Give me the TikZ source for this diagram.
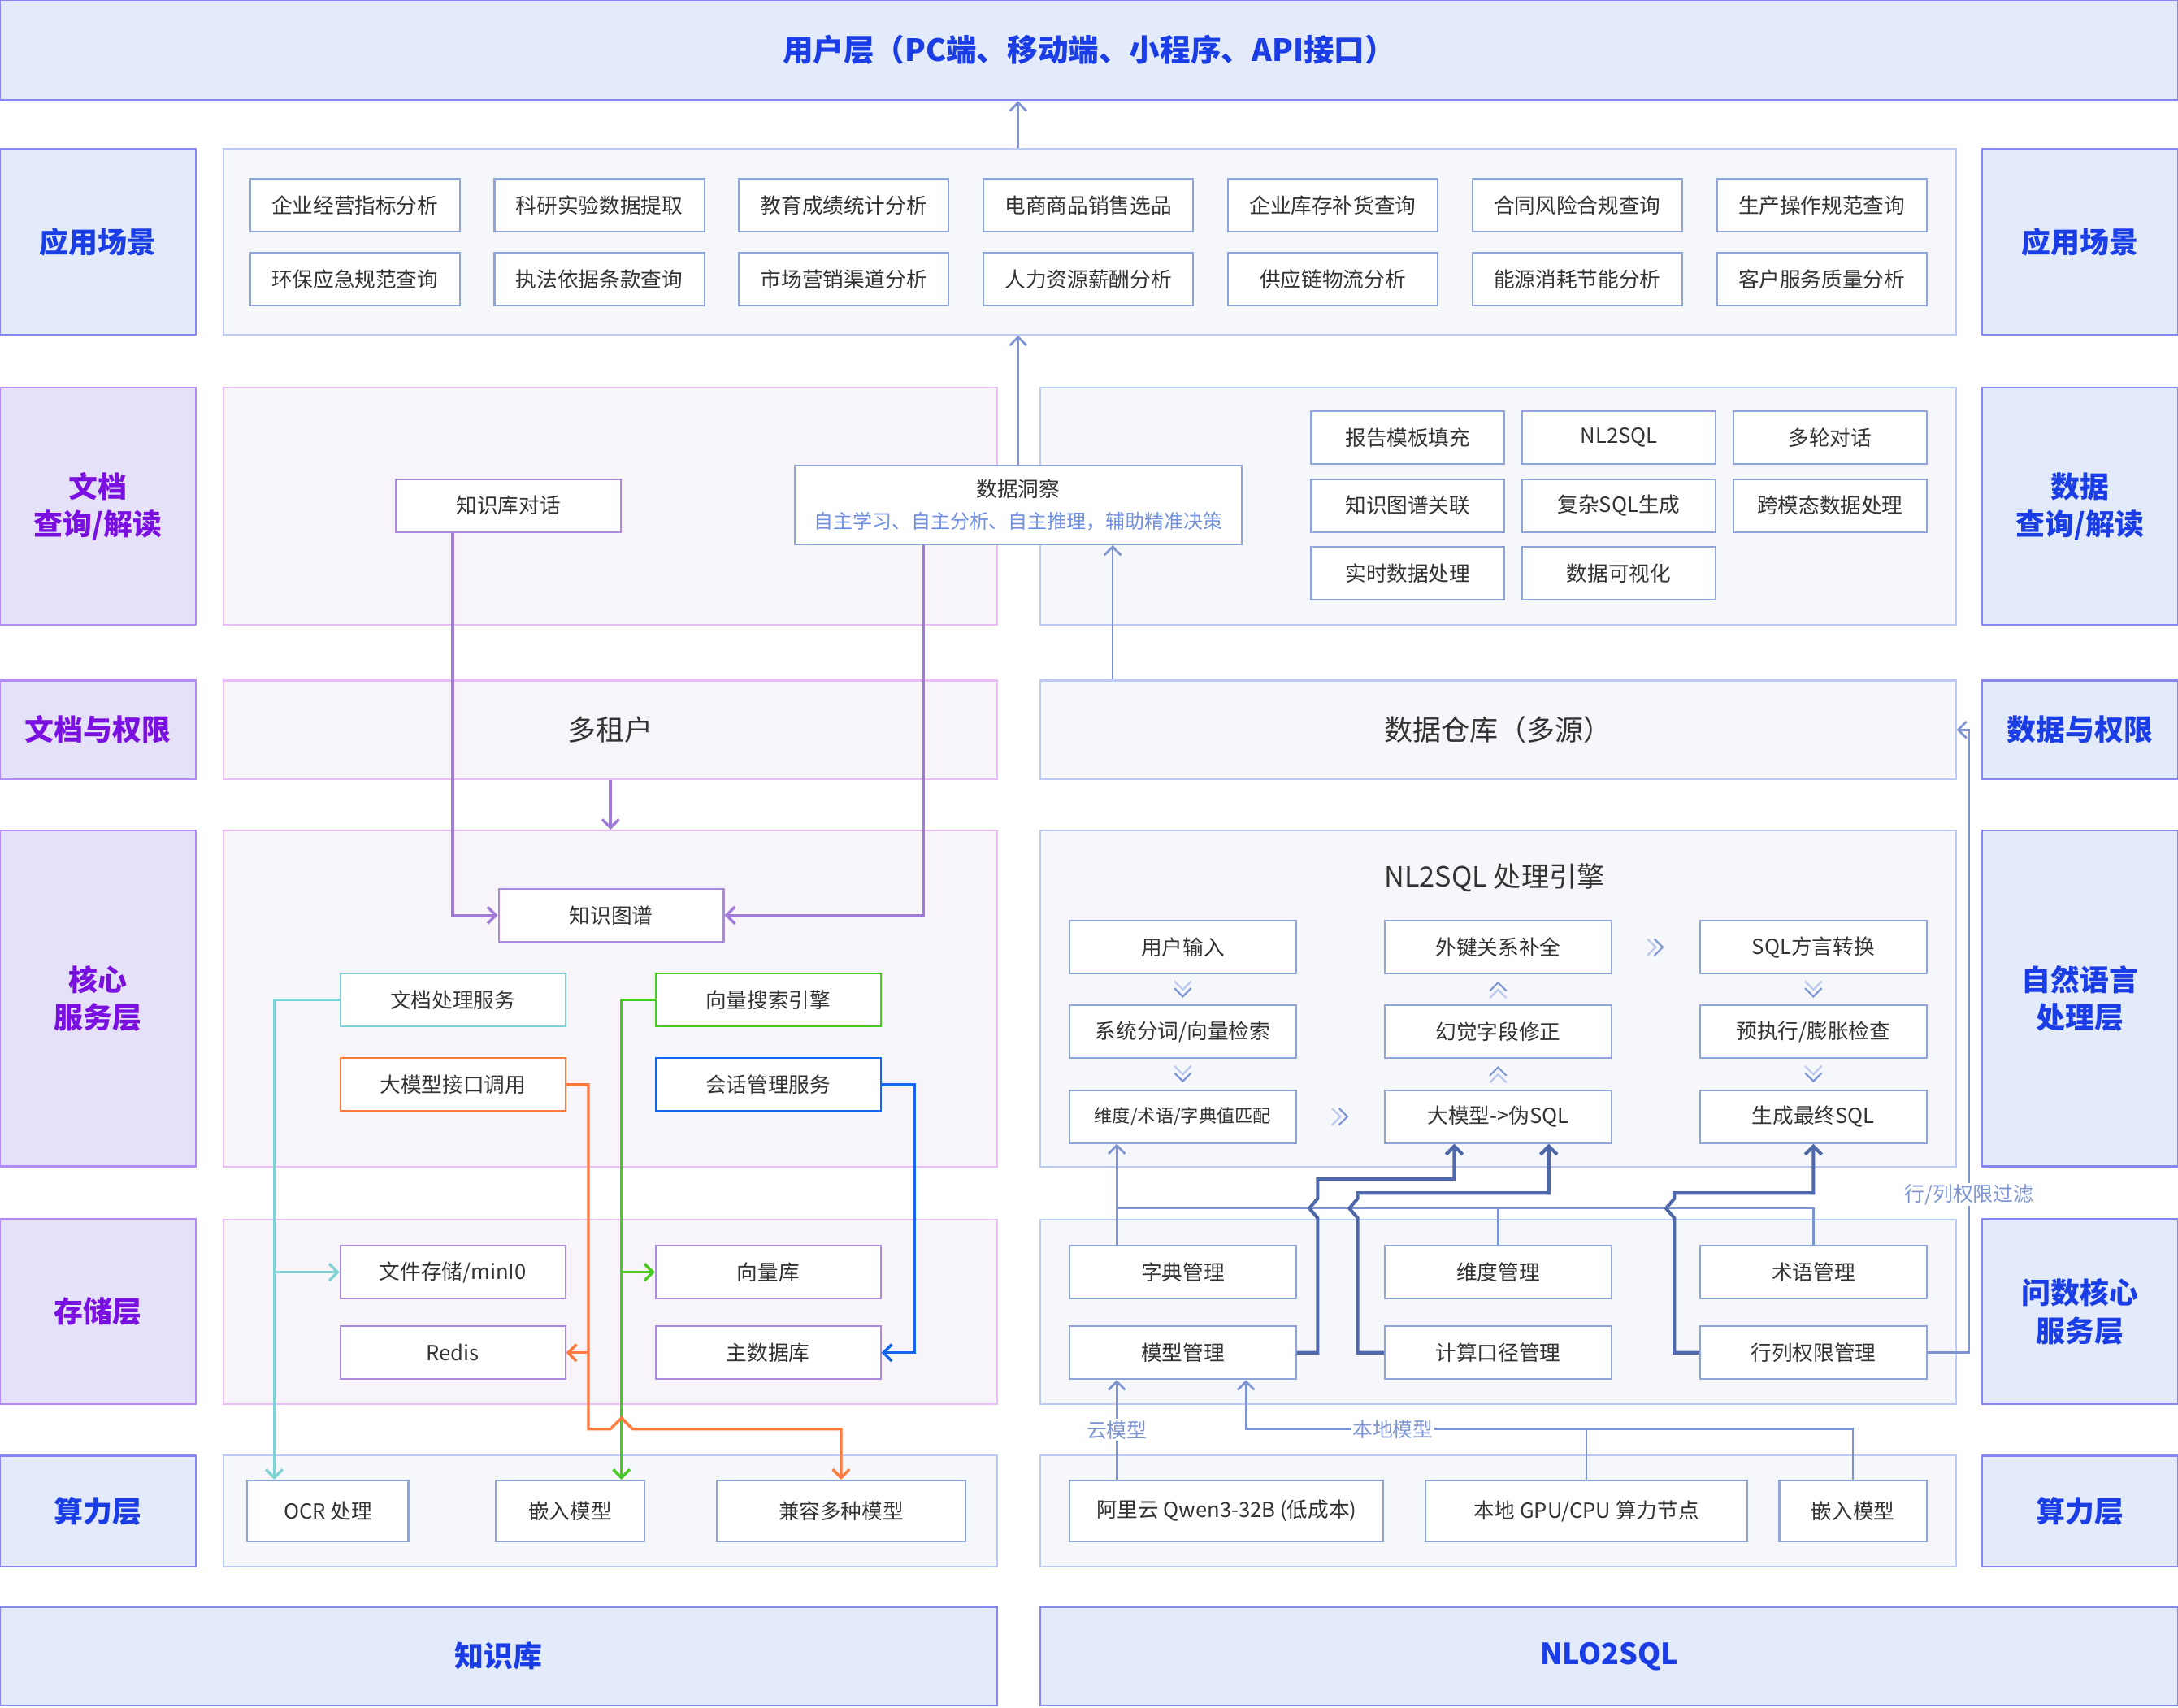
\documentclass[tikz,border=0pt]{standalone}
\usepackage{fontspec}
\setmainfont{Noto Sans CJK SC}
\usetikzlibrary{arrows.meta,calc}

\definecolor{sidefill}{HTML}{E3EBFA}
\definecolor{sideline}{HTML}{8787F3}
\definecolor{sidetext}{HTML}{1A3DE6}
\definecolor{purpfill}{HTML}{E5E1F8}
\definecolor{purpline}{HTML}{B28BF7}
\definecolor{purptext}{HTML}{7A10E0}
\definecolor{panelfill}{HTML}{F5F7FA}
\definecolor{panelline}{HTML}{BACAF4}
\definecolor{pinkfill}{HTML}{F7F5FA}
\definecolor{pinkline}{HTML}{EBBDF7}
\definecolor{itemline}{HTML}{8FA5DA}
\definecolor{itempurp}{HTML}{AC8ADB}
\definecolor{textgray}{HTML}{333333}
\definecolor{subblue}{HTML}{6F8FE0}
\definecolor{linkblue}{HTML}{7D94D0}
\definecolor{darklink}{HTML}{4F68A9}
\definecolor{kgpurp}{HTML}{A07AD8}
\definecolor{cyanlink}{HTML}{7FD2D4}
\definecolor{orangelink}{HTML}{FF7A3C}
\definecolor{greenlink}{HTML}{46CC1E}
\definecolor{bluelink}{HTML}{1466F0}
\definecolor{chevlight}{HTML}{BCC9EC}
\definecolor{chevdark}{HTML}{7F97D4}

\tikzset{
  sidebox/.style={draw=sideline,fill=sidefill,line width=1.5pt,text=sidetext,
    font=\fontsize{21}{27}\selectfont\bfseries,align=center,inner sep=0pt,minimum width=141pt},
  purpbox/.style={sidebox,draw=purpline,fill=purpfill,text=purptext},
  panel/.style={draw=panelline,fill=panelfill,line width=1.2pt,inner sep=0pt,
    text=textgray,font=\fontsize{20.5}{24}\selectfont},
  pinkpanel/.style={panel,draw=pinkline,fill=pinkfill},
  item/.style={draw=itemline,fill=white,line width=1.2pt,text=textgray,
    font=\fontsize{15}{23}\selectfont,minimum height=38pt,inner sep=0pt},
  pitem/.style={item,draw=itempurp},
  tip/.style={-{Straight Barb[length=6pt,width=12pt]}},
  link/.style={linkblue,line width=1.6pt},
  darkline/.style={darklink,line width=2.4pt},
  flabel/.style={fill=white,text=linkblue,font=\fontsize{14.5}{17}\selectfont,inner sep=1pt},
  chevs/.pic={
    \draw[chevlight,line width=1.3pt] (-6,-6) -- (0,0) -- (6,-6);
    \draw[chevdark,line width=1.3pt] (-6,-1) -- (0,5) -- (6,-1);
  }
}

\begin{document}
\begin{tikzpicture}[x=1pt,y=-1pt]
  \useasboundingbox (0,0) rectangle (1568,1229.3);

  % top and bottom bars
  \node[sidebox,minimum width=1568pt,minimum height=72pt,font=\fontsize{22}{27}\selectfont\bfseries] (user) at (784,36) {用户层（PC端、移动端、小程序、API接口）};
  \node[sidebox,minimum width=718pt,minimum height=71pt] (kb) at (359,1192.5) {知识库};
  \node[sidebox,minimum width=819pt,minimum height=71pt] (nlo) at (1158.5,1192.5) {NLO2SQL};

  % side labels
  \node[sidebox,minimum height=134pt] (app_l) at (70.5,174) {应用场景};
  \node[sidebox,minimum height=134pt] (app_r) at (1497.5,174) {应用场景};
  \node[purpbox,minimum height=171pt] (doc_l) at (70.5,364.5) {文档\\查询/解读};
  \node[sidebox,minimum height=171pt] (data_r) at (1497.5,364.5) {数据\\查询/解读};
  \node[purpbox,minimum height=71pt] (perm_l) at (70.5,525.5) {文档与权限};
  \node[sidebox,minimum height=71pt] (perm_r) at (1497.5,525.5) {数据与权限};
  \node[purpbox,minimum height=242pt] (core_l) at (70.5,719) {核心\\服务层};
  \node[sidebox,minimum height=242pt] (nlp_r) at (1497.5,719) {自然语言\\处理层};
  \node[purpbox,minimum height=133pt] (store_l) at (70.5,944.5) {存储层};
  \node[sidebox,minimum height=133pt] (svc_r) at (1497.5,944.5) {问数核心\\服务层};
  \node[sidebox,minimum height=80pt] (comp_l) at (70.5,1088) {算力层};
  \node[sidebox,minimum height=80pt] (comp_r) at (1497.5,1088) {算力层};

  % panels
  \node[panel,minimum width=1247pt,minimum height=134pt] (app_panel) at (784.5,174) {};
  \node[pinkpanel,minimum width=557pt,minimum height=171pt] (doc_panel) at (439.5,364.5) {};
  \node[panel,minimum width=659pt,minimum height=171pt] (data_panel) at (1078.5,364.5) {};
  \node[pinkpanel,minimum width=557pt,minimum height=71pt] (tenant) at (439.5,525.5) {多租户};
  \node[panel,minimum width=659pt,minimum height=71pt] (warehouse) at (1078.5,525.5) {数据仓库（多源）};
  \node[pinkpanel,minimum width=557pt,minimum height=242pt] (core_panel) at (439.5,719) {};
  \node[panel,minimum width=659pt,minimum height=242pt] (engine_panel) at (1078.5,719) {};
  \node[pinkpanel,minimum width=557pt,minimum height=133pt] (store_panel) at (439.5,944.5) {};
  \node[panel,minimum width=659pt,minimum height=133pt] (svc_panel) at (1078.5,944.5) {};
  \node[panel,minimum width=557pt,minimum height=80pt] (comp_panel_l) at (439.5,1088) {};
  \node[panel,minimum width=659pt,minimum height=80pt] (comp_panel_r) at (1078.5,1088) {};

  % application scenes
  \foreach \t [count=\i] in {企业经营指标分析,科研实验数据提取,教育成绩统计分析,电商商品销售选品,企业库存补货查询,合同风险合规查询,生产操作规范查询}
    \node[item,minimum width=151pt] (app1_\i) at ({79.5+176*\i},148) {\t};
  \foreach \t [count=\i] in {环保应急规范查询,执法依据条款查询,市场营销渠道分析,人力资源薪酬分析,供应链物流分析,能源消耗节能分析,客户服务质量分析}
    \node[item,minimum width=151pt] (app2_\i) at ({79.5+176*\i},201) {\t};

  % query / interpretation
  \node[pitem,minimum width=162pt] (kbchat) at (366,364) {知识库对话};
  \node[item,minimum width=322pt,minimum height=57pt,align=center] (insight) at (733,363.5)
    {数据洞察\\{\color{subblue}\fontsize{14}{17}\selectfont 自主学习、自主分析、自主推理，辅助精准决策}};
  \node[item,minimum width=139pt] (dq1) at (1013.5,315) {报告模板填充};
  \node[item,minimum width=139pt] (dq2) at (1165.5,315) {NL2SQL};
  \node[item,minimum width=139pt] (dq3) at (1317.5,315) {多轮对话};
  \node[item,minimum width=139pt] (dq4) at (1013.5,364) {知识图谱关联};
  \node[item,minimum width=139pt] (dq5) at (1165.5,364) {复杂SQL生成};
  \node[item,minimum width=139pt] (dq6) at (1317.5,364) {跨模态数据处理};
  \node[item,minimum width=139pt] (dq7) at (1013.5,413) {实时数据处理};
  \node[item,minimum width=139pt] (dq8) at (1165.5,413) {数据可视化};

  % core services
  \node[pitem,minimum width=162pt] (kg) at (440,659) {知识图谱};
  \node[item,draw=cyanlink,minimum width=162pt] (docsvc) at (326,720) {文档处理服务};
  \node[item,draw=orangelink,minimum width=162pt] (llmapi) at (326,781) {大模型接口调用};
  \node[item,draw=greenlink,minimum width=162pt] (vecsearch) at (553,720) {向量搜索引擎};
  \node[item,draw=bluelink,minimum width=162pt] (session) at (553,781) {会话管理服务};

  \node[text=textgray,font=\fontsize{20}{24}\selectfont] (engine_title) at (1076,632) {NL2SQL 处理引擎};
  \begin{scope}[every node/.style={item,minimum width=163pt}]
    \node (e11) at (851.5,682) {用户输入};
    \node (e12) at (851.5,743) {系统分词/向量检索};
    \node[font=\fontsize{13}{16}\selectfont] (e13) at (851.5,804) {维度/术语/字典值匹配};
    \node (e21) at (1078.5,682) {外键关系补全};
    \node (e22) at (1078.5,743) {幻觉字段修正};
    \node (e23) at (1078.5,804) {大模型->伪SQL};
    \node (e31) at (1305.5,682) {SQL方言转换};
    \node (e32) at (1305.5,743) {预执行/膨胀检查};
    \node (e33) at (1305.5,804) {生成最终SQL};
  \end{scope}
  \pic at ($(e11.south)!.5!(e12.north)$) {chevs};
  \pic at ($(e12.south)!.5!(e13.north)$) {chevs};
  \pic[rotate=90] at ($(e13.east)!.5!(e23.west)$) {chevs};
  \pic[rotate=180] at ($(e23.north)!.5!(e22.south)$) {chevs};
  \pic[rotate=180] at ($(e22.north)!.5!(e21.south)$) {chevs};
  \pic[rotate=90] at ($(e21.east)!.5!(e31.west)$) {chevs};
  \pic at ($(e31.south)!.5!(e32.north)$) {chevs};
  \pic at ($(e32.south)!.5!(e33.north)$) {chevs};

  % storage
  \node[pitem,minimum width=162pt] (filestore) at (326,916) {文件存储/minI0};
  \node[pitem,minimum width=162pt] (redis) at (326,974) {Redis};
  \node[pitem,minimum width=162pt] (vecdb) at (553,916) {向量库};
  \node[pitem,minimum width=162pt] (maindb) at (553,974) {主数据库};
  \node[item,minimum width=163pt] (dict) at (851.5,916) {字典管理};
  \node[item,minimum width=163pt] (dim) at (1078.5,916) {维度管理};
  \node[item,minimum width=163pt] (term) at (1305.5,916) {术语管理};
  \node[item,minimum width=163pt] (modelmgmt) at (851.5,974) {模型管理};
  \node[item,minimum width=163pt] (metric) at (1078.5,974) {计算口径管理};
  \node[item,minimum width=163pt] (rowperm) at (1305.5,974) {行列权限管理};

  % compute
  \node[item,minimum width=116pt,minimum height=44pt] (ocr) at (236,1088) {OCR 处理};
  \node[item,minimum width=107pt,minimum height=44pt] (embed_l) at (410.5,1088) {嵌入模型};
  \node[item,minimum width=179pt,minimum height=44pt] (multi) at (605.5,1088) {兼容多种模型};
  \node[item,minimum width=226pt,minimum height=44pt] (qwen) at (883,1088) {阿里云 Qwen3-32B (低成本)};
  \node[item,minimum width=232pt,minimum height=44pt] (local) at (1142,1088) {本地 GPU/CPU 算力节点};
  \node[item,minimum width=106pt,minimum height=44pt] (embed_r) at (1334,1088) {嵌入模型};

  % connectors, upper part
  \draw[link,tip] (app_panel.north -| insight) -- (user.south -| insight);
  \draw[link,tip] (insight.north) -- (insight.north |- app_panel.south);
  \draw[link,tip] ([xshift=68pt]insight.south |- warehouse.north) -- ([xshift=68pt]insight.south);
  \draw[kgpurp,line width=2pt,tip] (tenant.south) -- (tenant.south |- core_panel.north);
  \draw[kgpurp,line width=2pt,tip] ([xshift=-40pt]kbchat.south) |- (kg.west);
  \draw[kgpurp,line width=2pt,tip] ([xshift=-68pt]insight.south) |- (kg.east);

  % connectors, knowledge base side
  \draw[cyanlink,line width=2pt,tip] (docsvc.west) -- ++(-47,0) coordinate (cy_bend) -- (cy_bend |- ocr.north);
  \draw[cyanlink,line width=2pt,tip] (cy_bend |- filestore.west) -- (filestore.west);
  \draw[greenlink,line width=2pt,tip] (vecsearch.west) -- ++(-24,0) coordinate (gr_bend) -- (gr_bend |- embed_l.north);
  \draw[greenlink,line width=2pt,tip] (gr_bend |- vecdb.west) -- (vecdb.west);
  \coordinate (or_hop) at (gr_bend |- 0,1029);
  \draw[orangelink,line width=2pt,tip] (llmapi.east) -- ++(16,0) coordinate (or_bend) -- (or_bend |- or_hop)
    -- ([xshift=-8pt]or_hop) -- ([yshift=8pt]or_hop) -- ([xshift=8pt]or_hop) -- (or_hop -| multi.north) -- (multi.north);
  \draw[orangelink,line width=2pt,tip] (or_bend |- redis.east) -- (redis.east);
  \draw[bluelink,line width=2pt,tip] (session.east) -- ++(24,0) |- (maindb.east);

  % connectors, NL2SQL side
  \coordinate (bus_y) at (0,870);
  \draw[link,tip] ([xshift=-47.5pt]dict.north) -- ([xshift=-47.5pt]e13.south);
  \draw[link] ([xshift=-47.5pt]dict.north |- bus_y) -| (term.north);
  \draw[link] (dim.north) -- (dim.north |- bus_y);
  \draw[darkline,tip] (modelmgmt.east) -- ++(15,0) coordinate (d1) -- (d1 |- 0,877) -- ++(-6,-7) -- ++(6,-7)
    -- (d1 |- 0,849) -| ([xshift=-31.5pt]e23.south);
  \draw[darkline,tip] (metric.west) -- ++(-19,0) coordinate (d2) -- (d2 |- 0,877) -- ++(-6,-7) -- ++(6,-7)
    -- (d2 |- 0,859) -| ([xshift=36.5pt]e23.south);
  \draw[darkline,tip] (rowperm.west) -- ++(-18,0) coordinate (d3) -- (d3 |- 0,877) -- ++(-6,-7) -- ++(6,-7)
    -- (d3 |- 0,859) -| (e33.south);
  \draw[link,tip] (rowperm.east) -- ++(30,0) coordinate (pf) |- (warehouse.east);
  \node[flabel] (perm_lbl) at (pf |- 0,860) {行/列权限过滤};

  \draw[link,tip] ([xshift=-79pt]qwen.north) -- ([xshift=-47.5pt]modelmgmt.south) node[flabel,midway] (cloud_lbl) {云模型};
  \draw[link] (local.north) -- (local.north |- 0,1029);
  \draw[link,tip] (embed_r.north) -- (embed_r.north |- 0,1029) -| ([xshift=45.5pt]modelmgmt.south)
    node[flabel,pos=0.379] (local_lbl) {本地模型};

\end{tikzpicture}
\end{document}
